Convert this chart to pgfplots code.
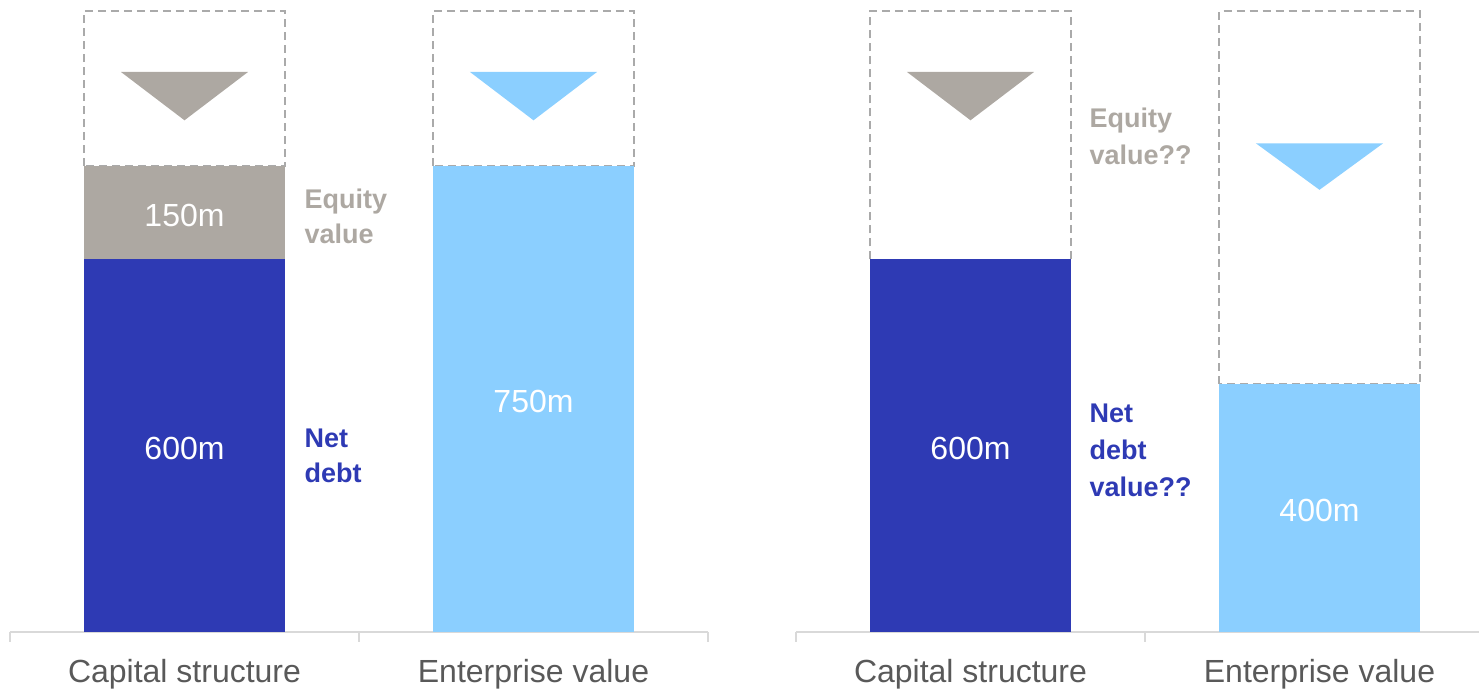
\documentclass[border=0pt]{standalone}
\usepackage{pgfplots}
\pgfplotsset{compat=1.18}
\usepackage{fontspec}
\setmainfont{Liberation Sans}
\definecolor{debt}{HTML}{2E3AB4}
\definecolor{ev}{HTML}{8BCFFF}
\definecolor{eq}{HTML}{ADA8A2}
\definecolor{dash}{HTML}{AAAAAA}
\definecolor{axl}{HTML}{D9D9D9}
\definecolor{lbl}{HTML}{595959}
\pgfplotsset{
  panel/.style={
    scale only axis, width=349pt, height=310.5pt,
    xmin=-0.5, xmax=1.5, ymin=0, ymax=1000,
    axis y line=none, axis x line*=bottom,
    x axis line style={-, draw=axl, line width=1pt},
    xtick={0,1}, xticklabels={Capital structure, Enterprise value},
    major x tick style={draw=none},
    minor xtick={-0.5,0.5,1.5},
    minor x tick style={draw=axl, line width=1pt},
    minor tick length=5pt, tick align=outside,
    xticklabel style={anchor=base, yshift=-21pt, font=\fontsize{16}{19}\selectfont, text=lbl},
    clip=false,
  },
  bar/.style={ybar, bar width=0.5747, bar shift=0, draw=none, fill=#1},
  box/.style={draw=dash, line width=0.8pt, dash pattern=on 4pt off 2.5pt},
}
\tikzset{
  val/.style={text=white, yshift=-1.3pt, font=\fontsize{16}{19}\selectfont},
  ann/.style={anchor=west, align=left, inner sep=0pt, font=\fontsize{13.5}{17.5}\selectfont\bfseries, text=#1},
  annb/.style={anchor=west, align=left, inner sep=0pt, font=\fontsize{13.5}{18.5}\selectfont\bfseries, text=#1},
}
\begin{document}
\begin{tikzpicture}
\begin{axis}[panel, at={(5pt,28.5pt)}, anchor=south west]
  \addplot[box] coordinates {(-0.2874,750) (-0.2874,1000) (0.2874,1000) (0.2874,750)} -- cycle;
  \addplot[box] coordinates {(0.7126,750) (0.7126,1000) (1.2874,1000) (1.2874,750)} -- cycle;
  \addplot[bar=eq] coordinates {(0,750)};
  \addplot[bar=debt] coordinates {(0,600)};
  \addplot[bar=ev] coordinates {(1,750)};
  \addplot[fill=eq, draw=none] coordinates {(-0.1825,902) (0.1825,902) (0,824)} -- cycle;
  \addplot[fill=ev, draw=none] coordinates {(0.8175,902) (1.1825,902) (1,824)} -- cycle;
  \node[val] at (axis cs:0,675) {150m};
  \node[val] at (axis cs:0,300) {600m};
  \node[val] at (axis cs:1,375) {750m};
  \node[ann=eq] at (axis cs:0.343,669) {Equity\\value};
  \node[ann=debt] at (axis cs:0.343,284) {Net\\debt};
\end{axis}
\begin{axis}[panel, at={(398pt,28.5pt)}, anchor=south west]
  \addplot[box] coordinates {(-0.2874,600) (-0.2874,1000) (0.2874,1000) (0.2874,600)} -- cycle;
  \addplot[box] coordinates {(0.7126,400) (0.7126,1000) (1.2874,1000) (1.2874,400)} -- cycle;
  \addplot[bar=debt] coordinates {(0,600)};
  \addplot[bar=ev] coordinates {(1,400)};
  \addplot[fill=eq, draw=none] coordinates {(-0.1825,902) (0.1825,902) (0,824)} -- cycle;
  \addplot[fill=ev, draw=none] coordinates {(0.8175,787) (1.1825,787) (1,712)} -- cycle;
  \node[val] at (axis cs:0,300) {600m};
  \node[val] at (axis cs:1,200) {400m};
  \node[annb=eq] at (axis cs:0.340,798) {Equity\\value??};
  \node[annb=debt] at (axis cs:0.340,293) {Net\\debt\\value??};
\end{axis}
\pgfresetboundingbox
\path[use as bounding box] (0,0) rectangle (739.5pt,344.5pt);
\end{tikzpicture}
\end{document}
